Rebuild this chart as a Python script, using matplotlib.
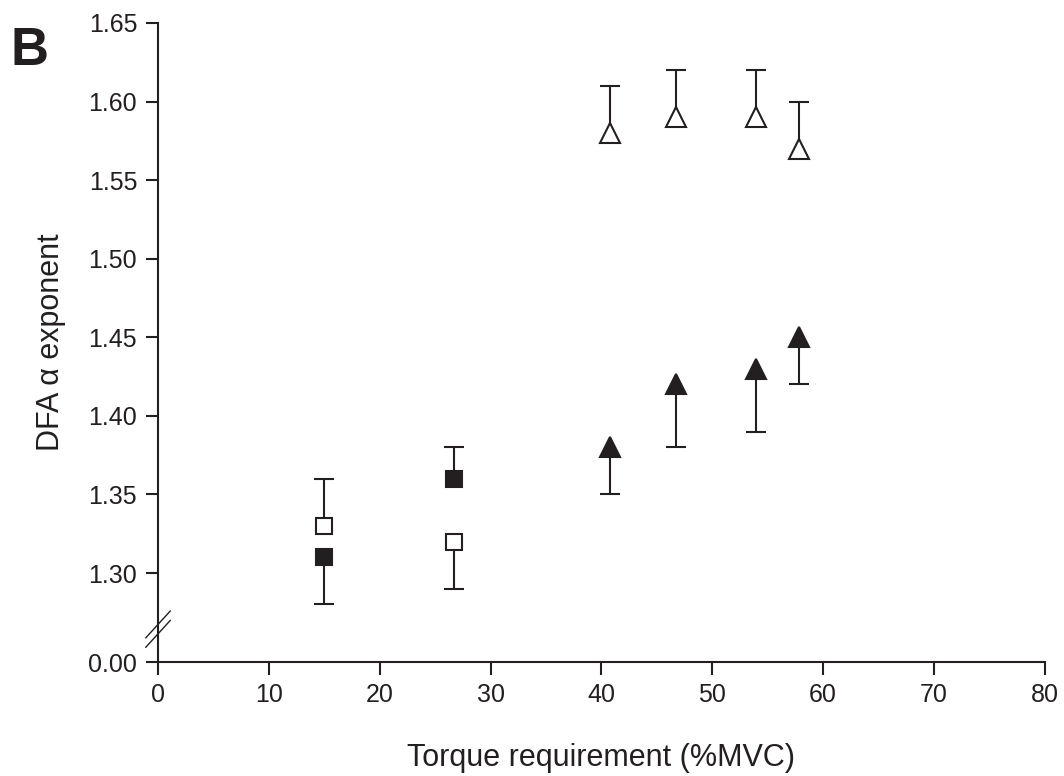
import matplotlib
matplotlib.use("Agg")
import matplotlib.pyplot as plt
import numpy as np

plt.rcParams['font.family'] = ['Liberation Sans', 'DejaVu Sans']

# Data
sq_x = [15.0, 26.7]
open_sq_y = [1.33, 1.32]
open_sq_err = [1.36, 1.29]     # error bar end (one-sided)
filled_sq_y = [1.31, 1.36]
filled_sq_err = [1.28, 1.38]

tri_x = [40.8, 46.7, 53.9, 57.8]
open_tri_y = [1.58, 1.59, 1.59, 1.57]
open_tri_err = [1.61, 1.62, 1.62, 1.60]
filled_tri_y = [1.38, 1.42, 1.43, 1.45]
filled_tri_err = [1.35, 1.38, 1.39, 1.42]

ytick_vals = [1.30, 1.35, 1.40, 1.45, 1.50, 1.55, 1.60, 1.65]
xtick_vals = [0, 10, 20, 30, 40, 50, 60, 70, 80]
ZERO_POS = 1.2434  # position where "0.00" is drawn (broken axis)

INK = '#231f20'

fig = plt.figure(figsize=(10.64, 7.76), dpi=100)
ax = fig.add_axes([0.1485, 0.1469, 0.8335, 0.8235])

def draw(x, y, yend, marker, filled, ms):
    ax.vlines(x, y, yend, colors=INK, linewidth=1.5, zorder=2)
    ax.plot(x, yend, linestyle='none', marker='_', markersize=14,
            markeredgewidth=1.5, color=INK, zorder=2)
    ax.plot(x, y, linestyle='none', marker=marker, markersize=ms,
            markerfacecolor=INK if filled else 'white',
            markeredgecolor=INK, markeredgewidth=1.5, zorder=3)

draw(sq_x, open_sq_y, open_sq_err, 's', False, 11)
draw(sq_x, filled_sq_y, filled_sq_err, 's', True, 11)
draw(tri_x, open_tri_y, open_tri_err, '^', False, 14.5)
draw(tri_x, filled_tri_y, filled_tri_err, '^', True, 14.5)

ax.set_xlim(0, 80)
ax.set_ylim(ZERO_POS, 1.65)
ax.set_yticks([ZERO_POS] + ytick_vals)
ax.set_yticklabels(['0.00'] + [f'{v:.2f}' for v in ytick_vals])
ax.set_xticks(xtick_vals)
ax.set_xticklabels([str(v) for v in xtick_vals])

for s in ['top', 'right']:
    ax.spines[s].set_visible(False)
for s in ['left', 'bottom']:
    ax.spines[s].set_linewidth(1.5)
    ax.spines[s].set_color(INK)
ax.tick_params(axis='both', direction='out', length=9, width=1.5,
               colors=INK, labelsize=18, labelcolor=INK, pad=6)

# axis break marks
for dy in [0.0, 0.006]:
    ax.plot([-1.1, 1.1], [1.2528 + dy, 1.2698 + dy], color=INK,
            lw=1.0, clip_on=False, zorder=5)

ax.set_xlabel('Torque requirement (%MVC)', fontsize=22, color=INK, labelpad=26)
ax.set_ylabel('DFA \u03b1 exponent', fontsize=22, color=INK, labelpad=16)

fig.text(0.010, 1 - 65/776, 'B', fontsize=38, fontweight='bold', color=INK,
         va='baseline')

fig.savefig('out.png', dpi=100)
